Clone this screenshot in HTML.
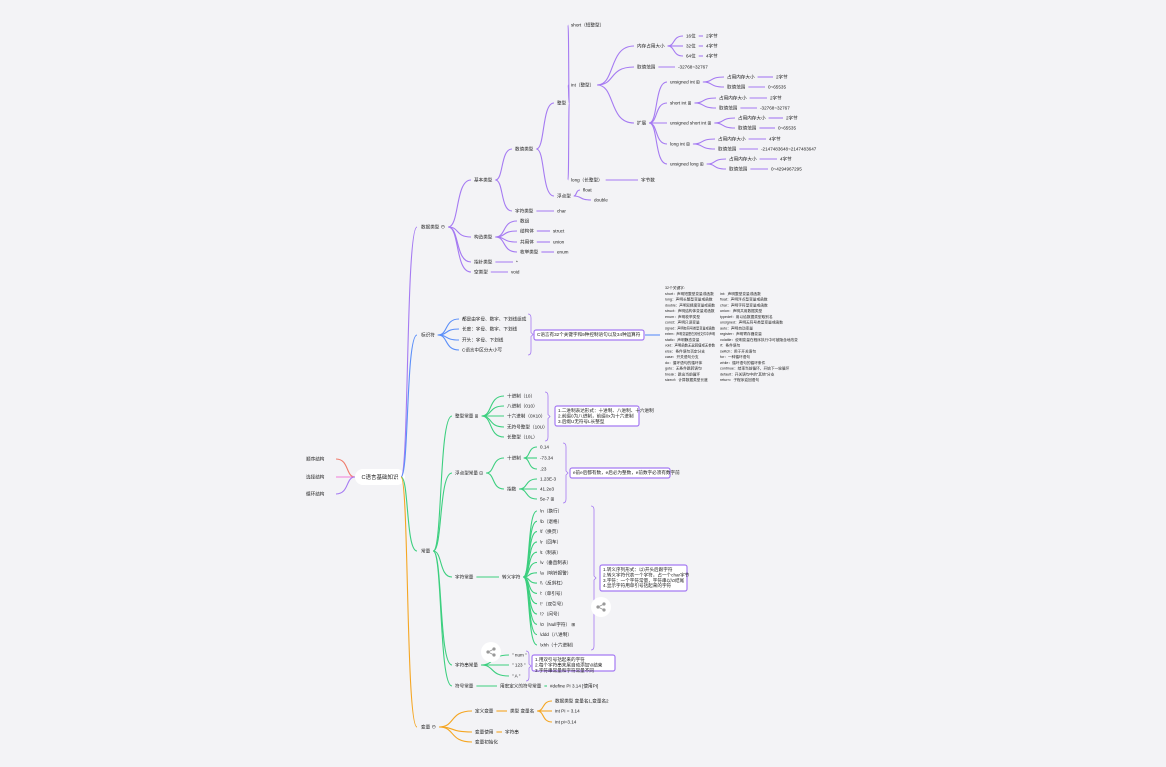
<!DOCTYPE html>
<html><head><meta charset="utf-8">
<style>
html,body{margin:0;padding:0;background:#f3f3f6;width:1166px;height:767px;overflow:hidden}
svg{display:block}
text{font-family:"Liberation Sans","Noto Sans CJK SC",sans-serif;font-size:4.6px;fill:#222}
</style></head><body>
<svg id="s" width="1166" height="767" xmlns="http://www.w3.org/2000/svg">
<rect x="355" y="469" width="50" height="16" rx="8" fill="#fff"/>
<text x="380" y="479" text-anchor="middle" style="font-size:5.5px">C语言基础知识</text>
<g id="g"></g>
</svg>
<script>
const P='#a57af2',B='#5b8ff9',G='#3ccf7f',O='#f5a623';
const g=document.getElementById('g');
const NS='http://www.w3.org/2000/svg';
function el(t,a,txt){const e=document.createElementNS(NS,t);for(const k in a)e.setAttribute(k,a[k]);if(txt!==undefined)e.textContent=txt;g.appendChild(e);return e;}
function curve(x1,y1,x2,y2,c){const dx=(x2-x1)*0.5;el('path',{d:`M${x1} ${y1} C${x1+dx} ${y1} ${x1+dx*0.6} ${y2} ${x2} ${y2}`,fill:'none',stroke:c,'stroke-width':1.1});}
function line(x1,y1,x2,y2,c){el('path',{d:`M${x1} ${y1} L${x2} ${y2}`,stroke:c,'stroke-width':1.1,fill:'none'});}
function node(x,y,t,c,kids){
  const te=el('text',{x:x,y:y+1.6},t);
  const w=te.getComputedTextLength?te.getComputedTextLength():t.length*4.5;
  const ex=x+w+3;
  (kids||[]).forEach(k=>{
    const cx=k[0]-3,cy=k[1];
    if(Math.abs(cy-y)<1)line(ex,y,cx,cy,c);else curve(ex,y,cx,cy,c);
    node(k[0],k[1],k[2],c,k[3]);
  });
}
const rx=401,ry=477;
[[421,227,P],[421,335,B],[421,551,G],[421,727,O]].forEach(a=>curve(rx,ry,a[0]-4,a[1],a[2]));
[[316,459,'#f07c6c'],[316,477,'#f07cd8'],[316,494,P]].forEach(a=>{curve(355,ry,a[0]+20,a[1],a[2]);el('text',{x:a[0]-10,y:a[1]+1.6},['顺序结构','选择结构','循环结构'][[459,477,494].indexOf(a[1])]);});

node(421,227,'数据类型 ⊖',P,[
 [474,180,'基本类型',[
   [515,149,'数值类型',[
     [557,103,'整型',[
       [571,25,'short（短整型）'],
       [571,85,'int（整型）',[
         [637,46,'内存占用大小',[[686,36,'16位',[[706,36,'2字节']]],[686,46,'32位',[[706,46,'4字节']]],[686,56,'64位',[[706,56,'4字节']]]]],
         [637,67,'取值范围',[[678,67,'-32768~32767']]],
         [637,123,'扩展',[
           [670,82,'unsigned int ⊞',[[727,77,'占用内存大小',[[776,77,'2字节']]],[727,87,'取值范围',[[768,87,'0~65535']]]]],
           [670,103,'short int ⊞',[[719,98,'占用内存大小',[[770,98,'2字节']]],[719,108,'取值范围',[[760,108,'-32768~32767']]]]],
           [670,123,'unsigned short int ⊞',[[738,118,'占用内存大小',[[786,118,'2字节']]],[738,128,'取值范围',[[778,128,'0~65535']]]]],
           [670,144,'long int ⊞',[[718,139,'占用内存大小',[[769,139,'4字节']]],[718,149,'取值范围',[[761,149,'-2147483648~2147483647']]]]],
           [670,164,'unsigned long ⊞',[[729,159,'占用内存大小',[[780,159,'4字节']]],[729,169,'取值范围',[[771,169,'0~4294967295']]]]]
         ]]
       ]],
       [571,180,'long（长整型）',[[641,180,'字节数']]]
     ]],
     [557,196,'浮点型',[[583,190,'float'],[594,200,'double']]]
   ]],
   [515,211,'字符类型',[[557,211,'char']]]
 ]],
 [474,237,'构造类型',[[520,221,'数组'],[520,231,'结构体',[[553,231,'struct']]],[520,242,'共用体',[[553,242,'union']]],[520,252,'枚举类型',[[557,252,'enum']]]]],
 [474,262,'指针类型',[[516,262,'*']]],
 [474,272,'空类型',[[511,272,'void']]]
]);
node(421,335,'标识符',B,[
 [462,319,'都是由字母、数字、下划线组成'],
 [462,329,'长度：字母、数字、下划线'],
 [462,340,'开头：字母、下划线'],
 [462,350,'C语言中区分大小写'],
]);
node(421,551,'常量',G,[
 [455,416,'整型常量 ⊞',[[507,396,'十进制（10）'],[507,406,'八进制（010）'],[507,416,'十六进制（0X10）'],[507,427,'无符号整型（10U）'],[507,437,'长整型（10L）']]],
 [455,473,'浮点型常量 ⊟',[[507,458,'十进制',[[540,447,'0.14'],[540,458,'-73.34'],[540,469,'.23']]],[507,489,'指数',[[540,479,'1.23E-3'],[540,489,'41.2e3'],[540,499,'5e-7 ⊞']]]]],
 [455,577,'字符常量',[[502,577,'转义字符',
   ['\\n（换行）','\\b（退格）','\\f（换页）','\\r（回车）','\\t（制表）','\\v（垂直制表）','\\a（响铃报警）','\\\\（反斜杠）',"\\'（单引号）",'\\"（双引号）','\\?（问号）','\\0（Null字符）  ⊞','\\ddd（八进制）','\\xhh（十六进制）'].map((t,i)=>[540,511+i*10.3,t])]]],
 [455,665,'字符串常量',[[512,655,'" num "'],[512,665,'" 123 "'],[512,676,'" A "']]],
 [455,686,'符号常量',[[500,686,'用宏定义的符号常量',[[550,686,'#define PI 3.14  [使用PI]']]]]]
]);
node(421,727,'变量 ⊖',O,[
 [475,711,'定义变量',[[510,711,'类型 变量名',[[555,701,'数据类型 变量名1,变量名2'],[555,711,'int PI = 3.14'],[555,722,'int  pi=3.14']]]]],
 [475,732,'变量使用',[[505,732,'字符串']]],
 [475,742,'变量初始化']
]);
function brk(x,y1,y2){el('path',{d:`M${x} ${y1} Q${x+3} ${y1} ${x+3} ${y1+4} L${x+3} ${(y1+y2)/2-2} L${x+5} ${(y1+y2)/2} L${x+3} ${(y1+y2)/2+2} L${x+3} ${y2-4} Q${x+3} ${y2} ${x} ${y2}`,fill:'none',stroke:P,'stroke-width':0.8});}
function box(x,y,w,h,lines){el('rect',{x:x,y:y,width:w,height:h,rx:2,fill:'#fff',stroke:P,'stroke-width':1.2});lines.forEach((t,i)=>el('text',{x:x+3,y:y+6+i*5.4},t));}
brk(528,314,355); box(534,330,110,10,['C语言有32个关键字和9种控制语句以及34种运算符']);
line(645,335,660,335,B);
const kw=[['32个关键字:',''],['short：声明短整型变量或函数','int：声明整型变量或函数'],['long：声明长整型变量或函数','float：声明浮点型变量或函数'],['double：声明双精度变量或函数','char：声明字符型变量或函数'],['struct：声明结构体变量或函数','union：声明共用数据类型'],['enum：声明枚举类型','typedef：用以给数据类型取别名'],['const：声明只读变量','unsigned：声明无符号类型变量或函数'],['signed：声明有符号类型变量或函数','auto：声明自动变量'],['extern：声明变量是在其他文件中声明','register：声明寄存器变量'],['static：声明静态变量','volatile：说明变量在程序执行中可被隐含地改变'],['void：声明函数无返回值或无参数','if：条件语句'],['else：条件语句否定分支','switch：用于开关语句'],['case：开关语句分支','for：一种循环语句'],['do：循环语句的循环体','while：循环语句的循环条件'],['goto：无条件跳转语句','continue：结束当前循环，开始下一轮循环'],['break：跳出当前循环','default：开关语句中的"其他"分支'],['sizeof：计算数据类型长度','return：子程序返回语句']];
kw.forEach((t,i)=>{const a=el('text',{x:665,y:289+i*5.75,style:'font-size:3.7px'},t[0]);if(a.getComputedTextLength&&a.getComputedTextLength()>50){a.setAttribute('textLength',50);a.setAttribute('lengthAdjust','spacingAndGlyphs');}if(t[1])el('text',{x:720,y:289+i*5.75,style:'font-size:3.7px'},t[1]);});
brk(545,392,441); box(555,406,84,20,['1.二进制表达形式：十进制、八进制、十六进制','2.前缀0为八进制，前缀0x为十六进制','3.后缀U无符号L长整型']);
brk(563,443,503); box(570,468,100,10,['e前e后都有数，e后必为整数，e前数字必须有数字前']);
brk(591,506,650); box(600,565,87,26,['1.转义序列形式：以\\开头后跟字符','2.转义字符代表一个字符，占一个char字节','3.字符：一个字符常量，字符串以\\0结尾','4.显示字符用单引号括起来的字符']);
brk(526,651,681); box(532,655,83,16,['1.用双引号括起来的字符','2.每个字符串末尾自动添加\\0结束','3.字符串常量和字符常量不同']);
function share(x,y){el('circle',{cx:x,cy:y,r:10,fill:'#fff'});el('circle',{cx:x-3,cy:y,r:1.6,fill:'#999'});el('circle',{cx:x+3,cy:y-3,r:1.6,fill:'#999'});el('circle',{cx:x+3,cy:y+3,r:1.6,fill:'#999'});el('path',{d:`M${x+3} ${y-3} L${x-3} ${y} L${x+3} ${y+3}`,stroke:'#999','stroke-width':0.8,fill:'none'});}
share(601,607); share(491,652);
</script>
</body></html>
